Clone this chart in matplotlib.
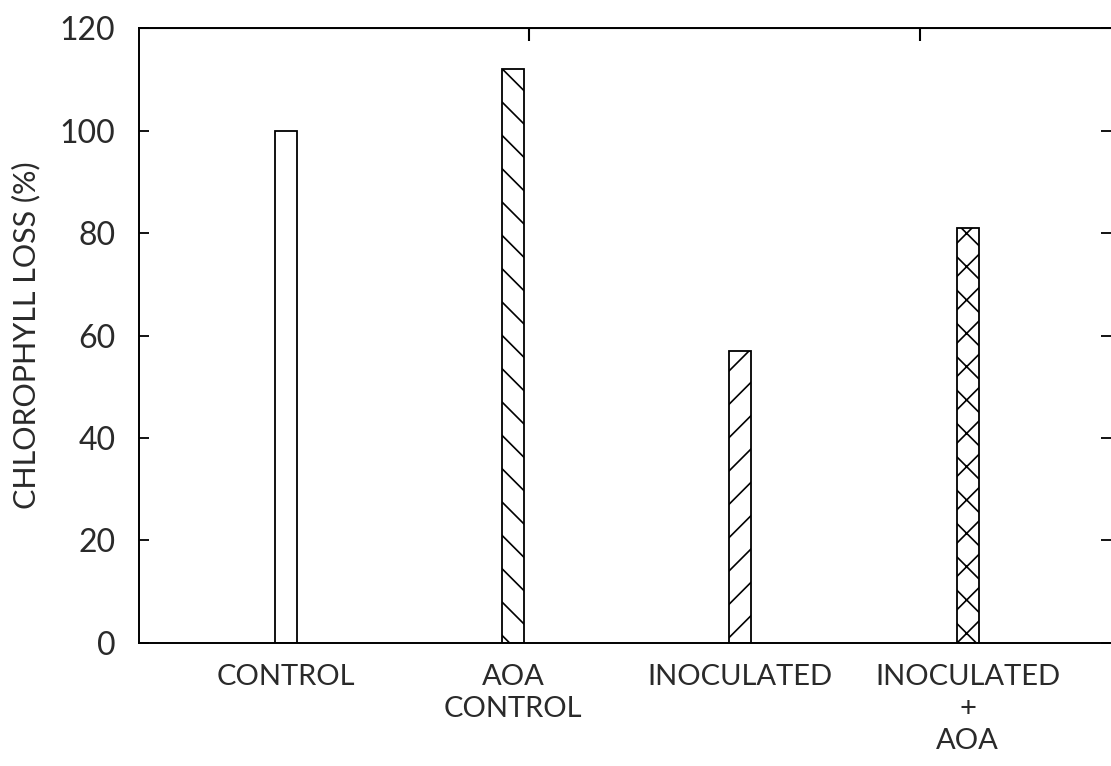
import matplotlib.pyplot as plt

# data
treatments = ["CONTROL", "AOA\nCONTROL", "INOCULATED", "INOCULATED\n+\nAOA"]
chl_loss = [100, 112, 57, 81]
hatches = ["", "\\", "/", "x"]
positions = [1, 2, 3, 4]
top_ticks = [2.07, 3.79]

plt.rcParams['font.family'] = ['Lato', 'DejaVu Sans']
plt.rcParams['hatch.linewidth'] = 1.2

fig = plt.figure(figsize=(11.11, 7.66), dpi=100)
ax = fig.add_axes([0.1251, 0.1606, 0.8749, 0.8028])

for x, v, h in zip(positions, chl_loss, hatches):
    ax.bar(x, v, width=0.097, color='white', edgecolor='black',
           linewidth=1.3, hatch=h)

ax.set_xlim(0.355, 4.63)
ax.set_ylim(0, 120)
ax.set_yticks(range(0, 121, 20))
ax.set_xticks(positions)
ax.set_xticklabels(treatments, fontsize=21, linespacing=1.3, color='#2a2a2a')
ax.tick_params(axis='x', length=0, pad=15)
ax.tick_params(axis='y', direction='in', length=7, width=1.3, pad=17,
               labelsize=23, labelcolor='#2a2a2a', right=True)
ax.set_ylabel("CHLOROPHYLL LOSS (%)", fontsize=22, color='#2a2a2a',
              labelpad=14)

ax.spines['right'].set_visible(False)
for s in ['left', 'top', 'bottom']:
    ax.spines[s].set_linewidth(1.4)

top = ax.secondary_xaxis('top')
top.set_xticks(top_ticks)
top.set_xticklabels([])
top.tick_params(direction='in', length=9, width=1.5)

fig.savefig("out.png", dpi=100)
